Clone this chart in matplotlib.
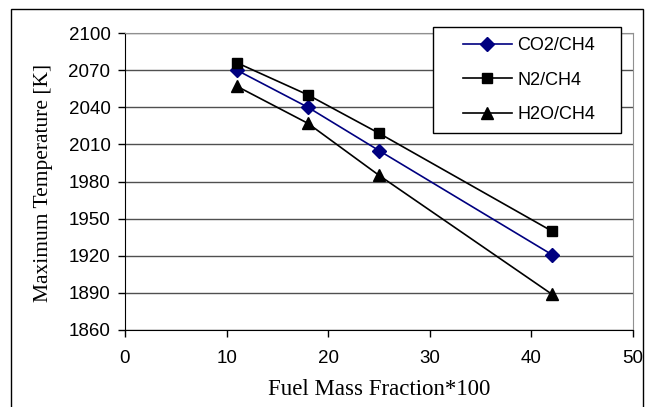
import matplotlib
matplotlib.use("Agg")
import matplotlib.pyplot as plt
from matplotlib.patches import Rectangle

# data
fuel_fraction = [11, 18, 25, 42]
co2_ch4 = [2070, 2040, 2005, 1921]
n2_ch4 = [2076, 2050, 2019, 1940]
h2o_ch4 = [2057, 2027, 1985, 1889]

x_ticks = [0, 10, 20, 30, 40, 50]
y_ticks = [1860, 1890, 1920, 1950, 1980, 2010, 2040, 2070, 2100]

W, H = 651, 407


def fx(px):
    return px / W


def fy(py):
    return 1 - py / H


fig = plt.figure(figsize=(W / 100, H / 100), dpi=100)
ax = fig.add_axes([fx(125), fy(330), (633 - 125) / W, (330 - 33) / H])

ax.plot(fuel_fraction, co2_ch4, color="#000080", lw=1.2, marker="D", ms=7,
        label="CO2/CH4", zorder=3)
ax.plot(fuel_fraction, n2_ch4, color="black", lw=1.2, marker="s", ms=7.5,
        label="N2/CH4", zorder=3)
ax.plot(fuel_fraction, h2o_ch4, color="black", lw=1.2, marker="^", ms=9,
        label="H2O/CH4", zorder=3)

ax.set_xlim(0, 50)
ax.set_ylim(1860, 2100)
ax.set_xticks(x_ticks)
ax.set_yticks(y_ticks)
ax.yaxis.grid(True, color="#505050", lw=1)
ax.set_axisbelow(True)

ax.spines["top"].set_color("#909090")
ax.spines["right"].set_color("#909090")
ax.spines["left"].set_color("black")
ax.spines["bottom"].set_color("black")
ax.tick_params(direction="out", length=5, width=1, labelsize=13.5)
ax.tick_params(axis="y", pad=5.5)
ax.tick_params(axis="x", pad=9.5)
for lbl in ax.get_xticklabels() + ax.get_yticklabels():
    lbl.set_fontfamily("Liberation Sans")

ax.set_xlabel("Fuel Mass Fraction*100", family="Liberation Serif", fontsize=16.5,
              va="center")
ax.xaxis.set_label_coords(0.501, (330 - 389.5) / 297)
ax.set_ylabel("Maximum Temperature [K]", family="Liberation Serif", fontsize=15.5,
              va="center")
ax.yaxis.set_label_coords((44 - 125) / 508, (330 - 183) / 297)

# legend: white box drawn separately, entries placed inside it
ax.add_patch(Rectangle((fx(433), fy(133)), (621 - 433) / W, (133 - 27) / H,
                       transform=fig.transFigure, facecolor="white",
                       edgecolor="black", lw=1, zorder=4, clip_on=False))
leg = ax.legend(loc="upper left", bbox_to_anchor=(fx(463), fy(37)),
                bbox_transform=fig.transFigure,
                prop={"family": "Liberation Sans", "size": 13}, frameon=False,
                borderpad=0, labelspacing=0.97, handlelength=2.7,
                handletextpad=0.3, borderaxespad=0)
leg.set_zorder(5)

# outer chart border
fig.patches.append(Rectangle((fx(11), fy(412)), (643 - 11) / W, (412 - 9) / H,
                             transform=fig.transFigure, fill=False, ec="black", lw=1))

fig.savefig("out.png", dpi=100)
